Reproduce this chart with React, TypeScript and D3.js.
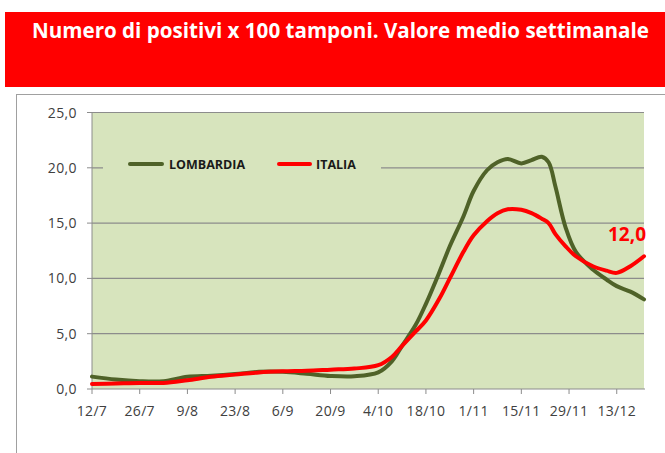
import React from 'react';
import * as d3 from 'd3';

// Sampled dates (dd/mm, 2020) and 7-day average positives per 100 swabs
const DATES = [
  '12/7', '19/7', '26/7', '2/8', '9/8', '16/8', '23/8', '30/8', '6/9', '13/9', '20/9', '27/9',
  '4/10', '8/10', '11/10', '15/10', '18/10', '22/10', '25/10', '29/10', '1/11', '5/11', '8/11',
  '11/11', '15/11', '18/11', '21/11', '23/11', '25/11', '28/11', '1/12', '6/12', '10/12', '13/12',
  '17/12', '21/12',
];
const LOMBARDIA = [
  1.12, 0.85, 0.7, 0.7, 1.1, 1.2, 1.35, 1.55, 1.55, 1.38, 1.18, 1.15,
  1.5, 2.5, 3.9, 5.8, 7.7, 10.6, 12.9, 15.6, 17.9, 19.8, 20.5,
  20.8, 20.4, 20.7, 21.0, 20.5, 18.3, 14.6, 12.4, 10.8, 9.9, 9.3,
  8.8, 8.1,
];
const ITALIA = [
  0.45, 0.5, 0.55, 0.55, 0.8, 1.1, 1.3, 1.5, 1.6, 1.65, 1.75, 1.85,
  2.15, 2.9, 3.9, 5.2, 6.2, 8.2, 10.0, 12.4, 13.9, 15.2, 15.9,
  16.25, 16.2, 15.9, 15.4, 15.0, 14.0, 12.9, 12.0, 11.1, 10.7, 10.5,
  11.1, 12.0,
];
const X_TICKS = ['12/7', '26/7', '9/8', '23/8', '6/9', '20/9', '4/10', '18/10', '1/11', '15/11', '29/11', '13/12'];
const Y_TICKS = [0, 5, 10, 15, 20, 25];
const TITLE = 'Numero di positivi x 100 tamponi. Valore medio settimanale';

const W = 665;
const H = 453;
const PLOT = { left: 92, right: 644, top: 112.5, bottom: 389 };
const GREEN = '#4F6228';
const RED = '#FF0000';
const FONT = "'Open Sans', sans-serif";

const parse = (s: string) => {
  const [d, m] = s.split('/').map(Number);
  return new Date(2020, m - 1, d);
};
const fmt = (v: number) => d3.format('.1f')(v).replace('.', ',');

export default function App() {
  const x = d3.scaleTime()
    .domain([parse('12/7'), parse('21/12')])
    .range([PLOT.left, PLOT.right]);
  const y = d3.scaleLinear().domain([0, 25]).range([PLOT.bottom, PLOT.top]);

  const line = d3.line<number>()
    .x((_, i) => x(parse(DATES[i])))
    .y(v => y(v))
    .curve(d3.curveCatmullRom.alpha(0.5));

  const lastX = x(parse(DATES[DATES.length - 1]));
  const lastY = y(ITALIA[ITALIA.length - 1]);

  return (
    <svg width={W} height={H} style={{ position: 'absolute', left: 0, top: 0, background: '#fff' }}>
      {/* header */}
      <rect x={5} y={12} width={W} height={75} fill="#FF0000" />
      <text x={32} y={38} fill="#fff" fontFamily={FONT} fontWeight="bold" fontSize={21}
        textLength={617} lengthAdjust="spacingAndGlyphs">{TITLE}</text>

      {/* chart frame */}
      <rect x={16.5} y={94.5} width={W} height={H} fill="#fff" stroke="#a0a0a0" />

      {/* plot area */}
      <rect x={PLOT.left} y={PLOT.top} width={PLOT.right - PLOT.left} height={PLOT.bottom - PLOT.top} fill="#D7E4BD" />
      {Y_TICKS.map(t => (
        <g key={t}>
          {t > 0 && <line x1={PLOT.left} x2={PLOT.right} y1={y(t)} y2={y(t)} stroke="#8c8c8c" strokeWidth={1.2} />}
          <line x1={PLOT.left - 5} x2={PLOT.left} y1={y(t)} y2={y(t)} stroke="#8c8c8c" />
          <text x={77} y={y(t)} dy="0.36em" textAnchor="end" fontFamily={FONT} fontSize={14}
            letterSpacing={0.4} fill="#404040">{fmt(t)}</text>
        </g>
      ))}
      <line x1={PLOT.left} x2={PLOT.left} y1={PLOT.top} y2={PLOT.bottom} stroke="#8c8c8c" />
      <line x1={PLOT.left} x2={PLOT.right + 1} y1={PLOT.bottom} y2={PLOT.bottom} stroke="#8c8c8c" />
      {X_TICKS.map(t => (
        <g key={t}>
          <line x1={x(parse(t))} x2={x(parse(t))} y1={PLOT.bottom} y2={PLOT.bottom + 5} stroke="#8c8c8c" />
          <text x={x(parse(t))} y={416} textAnchor="middle" fontFamily={FONT} fontSize={14}
            letterSpacing={0.3} fill="#404040">{t}</text>
        </g>
      ))}

      {/* legend */}
      <rect x={103} y={154} width={278} height={22} fill="#D7E4BD" />
      <line x1={130} x2={162} y1={164} y2={164} stroke={GREEN} strokeWidth={4} strokeLinecap="round" />
      <text x={169} y={169} fontFamily={FONT} fontWeight="bold" fontSize={12.5} fill="#1a1a1a">LOMBARDIA</text>
      <line x1={279} x2={310} y1={164} y2={164} stroke={RED} strokeWidth={4} strokeLinecap="round" />
      <text x={316} y={169} fontFamily={FONT} fontWeight="bold" fontSize={12.5} fill="#1a1a1a">ITALIA</text>

      {/* series */}
      <path d={line(LOMBARDIA) ?? ''} fill="none" stroke={GREEN} strokeWidth={4} strokeLinejoin="round" strokeLinecap="round" />
      <path d={line(ITALIA) ?? ''} fill="none" stroke={RED} strokeWidth={4} strokeLinejoin="round" strokeLinecap="round" />

      <text x={lastX + 2} y={lastY - 15} textAnchor="end" fontFamily={FONT} fontWeight="bold" fontSize={19} fill={RED}>
        {fmt(ITALIA[ITALIA.length - 1])}
      </text>
    </svg>
  );
}
